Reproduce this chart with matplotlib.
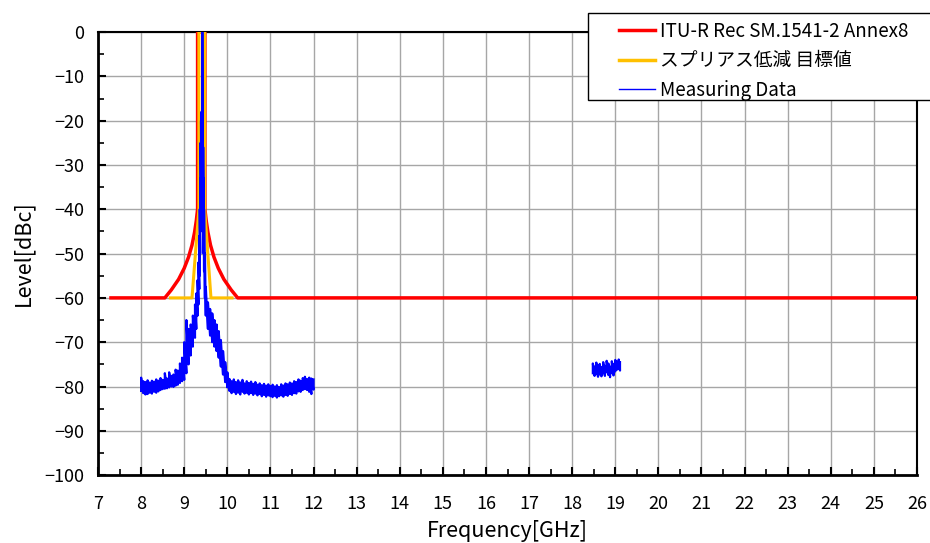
import numpy as np
import matplotlib
matplotlib.use('Agg')
import matplotlib.pyplot as plt
from matplotlib.ticker import MultipleLocator
from matplotlib.lines import Line2D
from matplotlib.patches import Rectangle

plt.rcParams['font.family'] = ['Noto Sans CJK JP', 'DejaVu Sans']
plt.rcParams['axes.unicode_minus'] = True

# ITU-R SM.1541-2 Annex 8 mask [GHz, dBc]
mask_freq = [7.30, 8.55, 8.70, 8.87, 9.00, 9.10, 9.18, 9.24, 9.28, 9.31, 9.31,
             9.48, 9.48, 9.51, 9.55, 9.61, 9.69, 9.79, 9.92, 10.09, 10.24, 26.0]
mask_level = [-60, -60, -58.2, -55.8, -53.3, -50.8, -48.1, -45.2, -42.6, -40, 0,
              0, -40, -42.6, -45.2, -48.1, -50.8, -53.3, -55.8, -58.2, -60, -60]

# spurious reduction target
target_freq = [8.68, 9.18, 9.34, 9.34, 9.475, 9.475, 9.62, 10.11]
target_level = [-60, -60, -40, 0, 0, -40, -60, -60]

# measured spectrum, band 1 (upper / lower edge of the trace)
meas1_freq = [8.00, 8.05, 8.10, 8.15, 8.20, 8.25, 8.30, 8.35, 8.40, 8.45,
              8.50, 8.55, 8.60, 8.65, 8.70, 8.75, 8.80, 8.85, 8.90, 8.95,
              9.00, 9.05, 9.10, 9.15, 9.20, 9.25, 9.28, 9.31, 9.33, 9.35,
              9.36, 9.37, 9.38, 9.39, 9.40, 9.41, 9.42, 9.43, 9.44, 9.45,
              9.46, 9.48, 9.50, 9.55, 9.60, 9.65,
              9.70, 9.75, 9.80, 9.85, 9.90, 9.95, 10.00, 10.05, 10.10, 10.15,
              10.20, 10.25, 10.30, 10.35, 10.40, 10.45, 10.50, 10.55, 10.60, 10.65,
              10.70, 10.75, 10.80, 10.85, 10.90, 10.95, 11.00, 11.05, 11.10, 11.15,
              11.20, 11.25, 11.30, 11.35, 11.40, 11.45, 11.50, 11.55, 11.60, 11.65,
              11.70, 11.75, 11.80, 11.85, 11.90, 11.95, 12.00]
meas1_hi = [-78.0, -78.8, -79.0, -78.6, -79.1, -78.7, -78.9, -78.4, -78.7, -78.1,
            -78.5, -77.0, -78.2, -76.8, -77.6, -77.3, -76.2, -76.4, -74.8, -73.5,
            -70.0, -65.0, -67.0, -66.0, -64.0, -61.5, -59.0, -56.0, -52.0, -46.0,
            -40.0, -33.0, -25.0, -20.0, -18.0, -19.0, 0.0, -22.0, -26.0, -33.0,
            -40.0, -50.0, -57.5, -61.0, -62.5, -63.5,
            -65.0, -66.0, -67.5, -69.5, -72.0, -74.5, -76.8, -78.3, -78.8, -78.4,
            -79.0, -78.6, -79.1, -78.5, -79.3, -78.8, -79.2, -78.9, -79.4, -79.0,
            -79.6, -79.3, -79.7, -79.4, -79.8, -79.5, -79.9, -79.6, -80.0, -79.7,
            -80.1, -79.5, -79.8, -79.3, -79.5, -79.1, -79.3, -78.8, -79.0, -78.4,
            -78.7, -78.1, -77.8, -78.3, -78.0, -78.2, -78.4]
meas1_lo = [-81.0, -81.5, -81.8, -81.7, -81.4, -81.6, -81.2, -81.4, -81.1, -80.8,
            -80.6, -80.5, -80.4, -80.2, -80.0, -80.1, -79.8, -79.6, -79.2, -78.8,
            -78.5, -77.0, -75.0, -73.0, -71.0, -69.0, -67.0, -64.0, -61.5, -58.0,
            -55.0, -50.0, -45.0, -42.0, -40.0, -42.0, -40.0, -44.0, -46.0, -50.0,
            -54.0, -60.0, -64.0, -67.0, -68.5, -70.0,
            -71.0, -72.0, -73.5, -75.5, -77.3, -79.0, -80.2, -81.0, -81.5, -81.2,
            -81.7, -81.4, -81.8, -81.2, -81.6, -81.4, -81.8, -81.5, -81.9, -81.6,
            -82.0, -81.7, -82.2, -81.9, -82.3, -82.0, -82.2, -82.4, -82.1, -82.5,
            -82.2, -82.0, -82.3, -81.9, -82.1, -81.7, -81.9, -81.5, -81.6, -81.1,
            -81.2, -80.8, -80.6, -80.8, -81.2, -81.7, -80.7]

# measured spectrum, band 2
meas2_freq = [18.48, 18.52, 18.56, 18.60, 18.64, 18.68, 18.72, 18.76, 18.80,
              18.84, 18.88, 18.92, 18.96, 19.00, 19.04, 19.08, 19.11]
meas2_hi = [-74.8, -75.5, -74.6, -75.2, -74.9, -75.6, -74.5, -75.3, -74.2,
            -74.8, -75.5, -74.3, -74.9, -74.0, -74.4, -73.9, -74.5]
meas2_lo = [-77.0, -77.6, -77.2, -77.8, -77.3, -77.7, -77.0, -77.6, -76.8,
            -77.4, -77.9, -77.0, -77.5, -76.6, -76.2, -76.0, -76.4]


def trace(freq, hi, lo):
    # zigzag between lower and upper edge at each frequency
    x = np.repeat(freq, 2)
    y = np.column_stack([lo, hi]).ravel()
    return x, y


fig = plt.figure(figsize=(9.3, 5.43), dpi=100)
ax = fig.add_axes([0.1054, 0.125, 0.8806, 0.816])

ax.plot(mask_freq, mask_level, color='#ff0000', lw=2.5, zorder=3)
ax.plot(target_freq, target_level, color='#ffc000', lw=2.2, zorder=4)
x1, y1 = trace(meas1_freq, meas1_hi, meas1_lo)
ax.plot(x1, y1, color='#0000ff', lw=1.6, zorder=5)
x2, y2 = trace(meas2_freq, meas2_hi, meas2_lo)
ax.plot(x2, y2, color='#0000ff', lw=1.6, zorder=5)

ax.set_xlim(7, 26)
ax.set_ylim(-100, 0)
ax.xaxis.set_major_locator(MultipleLocator(1))
ax.xaxis.set_minor_locator(MultipleLocator(0.5))
ax.yaxis.set_major_locator(MultipleLocator(10))
ax.yaxis.set_minor_locator(MultipleLocator(5))
ax.grid(which='major', color='#a6a6a6', lw=1.0)
ax.set_axisbelow(True)

ax.tick_params(which='both', direction='in', colors='black', labelsize=13)
ax.tick_params(which='major', length=6, width=1.5)
ax.tick_params(which='minor', length=4, width=1.2)
ax.tick_params(axis='y', pad=10)
ax.tick_params(axis='x', pad=14)

for side in ['left', 'bottom']:
    ax.spines[side].set_linewidth(2)
for side in ['top', 'right']:
    ax.spines[side].set_linewidth(1.5)

ax.set_xlabel('Frequency[GHz]', fontsize=15.5, labelpad=5)
ax.set_ylabel('Level[dBc]', fontsize=15.5, labelpad=7)

# legend box, running off the right edge of the figure
box = Rectangle((588 / 930, 1 - 100 / 543), 0.4, 87 / 543,
                transform=fig.transFigure, facecolor='white',
                edgecolor='black', lw=1.0, zorder=4)
fig.patches.append(box)

handles = [Line2D([], [], color='#ff0000', lw=2.5),
           Line2D([], [], color='#ffc000', lw=2.5),
           Line2D([], [], color='#0000ff', lw=1.0)]
labels = ['ITU-R Rec SM.1541-2 Annex8', 'スプリアス低減 目標値', 'Measuring Data']
leg = fig.legend(handles, labels, loc='upper left',
                 bbox_to_anchor=(619 / 930, 1 - 21 / 543),
                 fontsize=13.5, frameon=False, handlelength=1.9,
                 handletextpad=0.3, borderpad=0, labelspacing=0.45,
                 borderaxespad=0)
leg.set_zorder(6)

fig.savefig('out.png', dpi=100)
